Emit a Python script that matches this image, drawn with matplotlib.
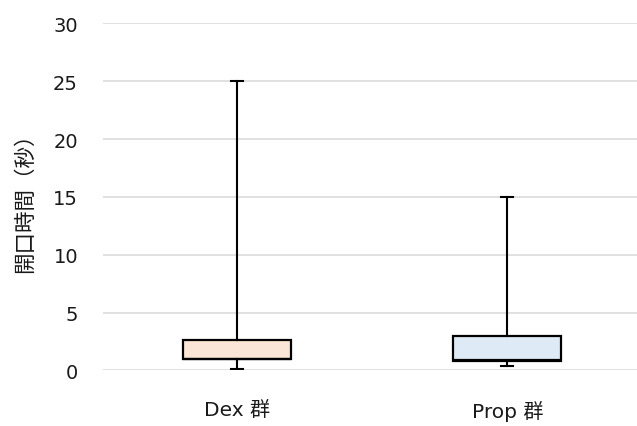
import matplotlib.pyplot as plt

plt.rcParams['font.family'] = ['DejaVu Sans', 'Noto Sans CJK JP']

# box plot summary values
groups = ['Dex 群', 'Prop 群']
whislo = [0.1, 0.35]
q1 = [0.95, 0.8]
med = [1.0, 0.9]
q3 = [2.6, 3.0]
whishi = [25, 15]
colors = ['#FBE5D6', '#DEEBF7']

stats = []
for i in range(len(groups)):
    stats.append({'label': groups[i], 'whislo': whislo[i], 'q1': q1[i],
                  'med': med[i], 'q3': q3[i], 'whishi': whishi[i], 'fliers': []})

fig = plt.figure(figsize=(6.37, 4.27), dpi=100)
ax = fig.add_axes([103 / 637, 0.13, 534 / 637, 0.943 - 0.13])

bp = ax.bxp(stats, positions=[1, 2], widths=0.40, patch_artist=True, showfliers=False,
            boxprops=dict(edgecolor='black', linewidth=1.6),
            medianprops=dict(color='black', linewidth=1.6),
            whiskerprops=dict(color='black', linewidth=1.5),
            capprops=dict(color='black', linewidth=1.5),
            capwidths=0.045)
for patch, c in zip(bp['boxes'], colors):
    patch.set_facecolor(c)

ax.set_xlim(0.504, 2.48)
ax.set_ylim(0, 30)
ax.set_yticks(range(0, 31, 5))
ax.yaxis.grid(True, color='#d9d9d9', linewidth=1.1)
ax.set_axisbelow(True)
for s in ax.spines.values():
    s.set_visible(False)
ax.tick_params(axis='y', length=0, pad=18, labelsize=14, labelcolor='#1a1a1a')
ax.tick_params(axis='x', length=0, pad=21, labelsize=14.5, labelcolor='#1a1a1a')

ax.set_ylabel('開口時間（秒）', fontsize=15.5, color='#1a1a1a',
              family=['Noto Sans CJK JP', 'DejaVu Sans'])
ax.yaxis.set_label_coords(-0.126, 0.5)

fig.savefig('out.png', dpi=100)
